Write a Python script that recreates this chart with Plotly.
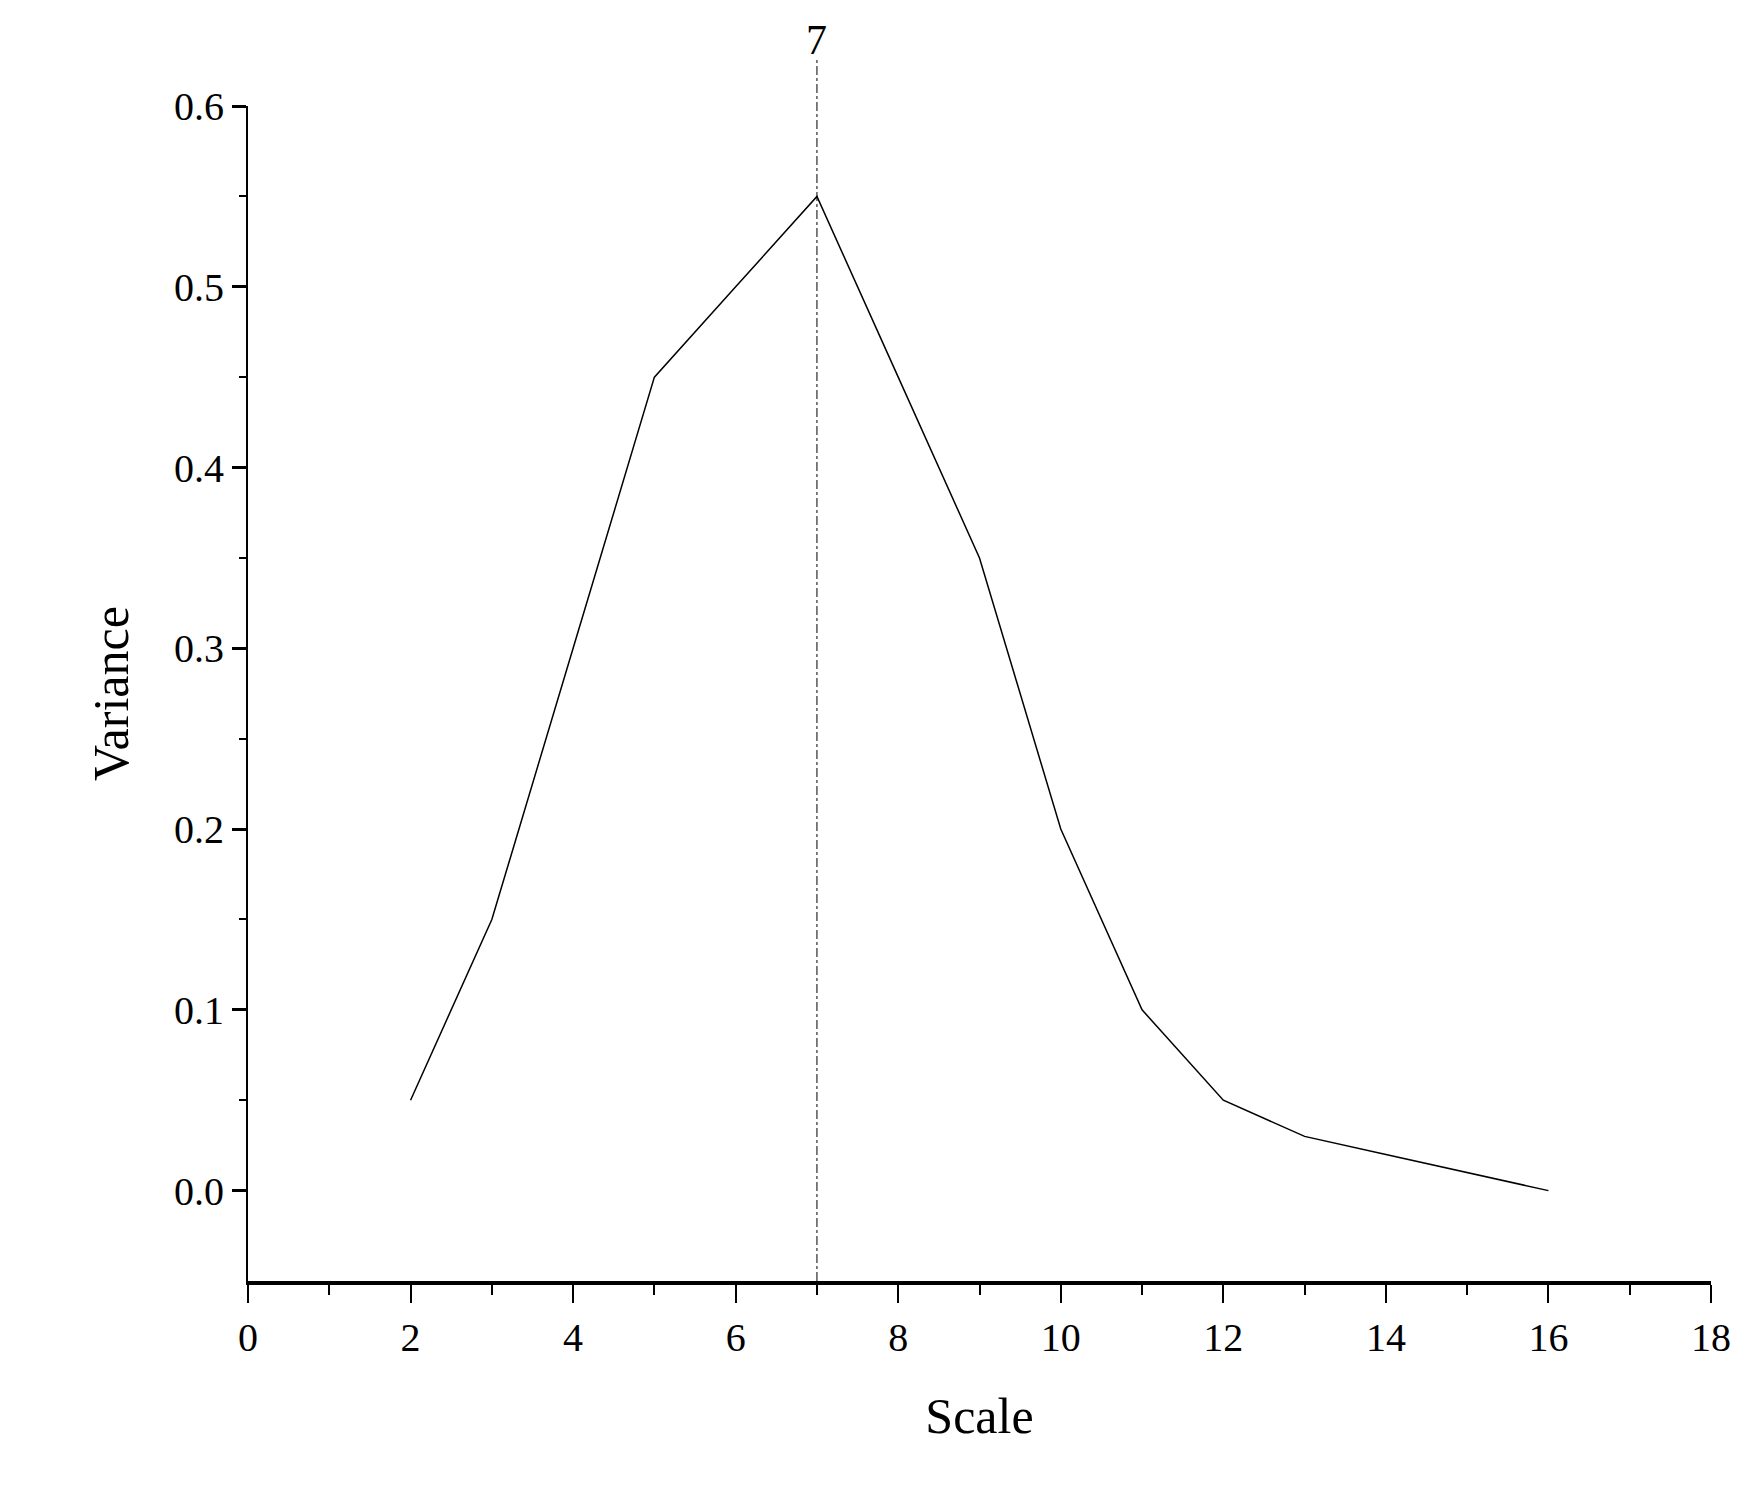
import plotly.graph_objects as go

scale = [2, 3, 4, 5, 6, 7, 8, 9, 10, 11, 12, 13, 14, 15, 16]
variance = [0.05, 0.15, 0.30, 0.45, 0.50, 0.55, 0.45, 0.35, 0.20, 0.10, 0.05, 0.03, 0.02, 0.01, 0.0]
peak_x = 7
peak_label = "7"

F = "Liberation Serif, Times New Roman, serif"
fig = go.Figure()
fig.add_trace(go.Scatter(x=scale, y=variance, mode="lines",
                         line=dict(color="black", width=1.5), showlegend=False))
fig.add_shape(type="line", x0=peak_x, x1=peak_x, xref="x", y0=0, y1=1.04, yref="paper",
              line=dict(color="black", width=1, dash="dashdot"))
fig.add_annotation(x=peak_x, xref="x", y=1.035, yref="paper", text=peak_label, showarrow=False,
                   yanchor="bottom", font=dict(family=F, size=42, color="black"))
fig.update_layout(
    width=1763, height=1500, paper_bgcolor="white", plot_bgcolor="white",
    margin=dict(l=240, r=60, t=98, b=227),
    font=dict(family=F, color="black"),
)
fig.update_xaxes(range=[0, 18], tickvals=list(range(0, 19, 2)), showgrid=False, zeroline=False,
                 showline=True, linecolor="black", linewidth=4, ticks="outside", ticklen=18,
                 tickwidth=2, tickcolor="black", tickfont=dict(size=40),
                 minor=dict(tickvals=list(range(1, 18, 2)), ticks="outside", ticklen=10, tickwidth=2, tickcolor="black"),
                 title=dict(text="Scale", font=dict(size=50), standoff=40))
fig.update_yaxes(range=[-0.05, 0.6], tickvals=[0, 0.1, 0.2, 0.3, 0.4, 0.5, 0.6], tickformat=".1f",
                 showgrid=False, zeroline=False, showline=True, linecolor="black", linewidth=2,
                 ticks="outside", ticklen=14, tickwidth=3, tickcolor="black", tickfont=dict(size=40),
                 minor=dict(tickvals=[0.05, 0.15, 0.25, 0.35, 0.45, 0.55], ticks="outside", ticklen=7, tickwidth=2, tickcolor="black"),
                 title=dict(text="Variance", font=dict(size=50), standoff=30))
fig.write_html("out.html")
